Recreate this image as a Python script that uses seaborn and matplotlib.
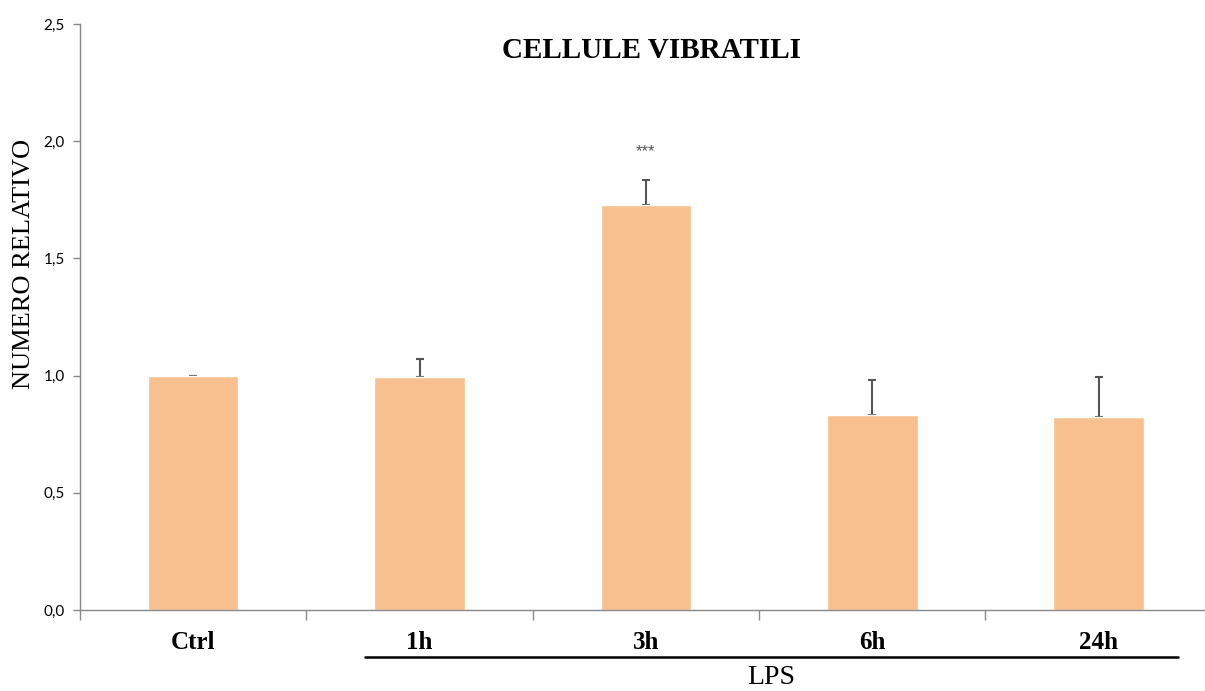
import matplotlib
matplotlib.use("Agg")
import matplotlib.pyplot as plt
import seaborn as sns
import pandas as pd
import numpy as np
from matplotlib.ticker import FuncFormatter

categories = ["Ctrl", "1h", "3h", "6h", "24h"]
values = [1.0, 0.995, 1.728, 0.832, 0.823]
errors = [0.0, 0.075, 0.107, 0.149, 0.171]
signif = ["", "", "***", "", ""]
title = "CELLULE VIBRATILI"
ylabel = "NUMERO RELATIVO"
group_label = "LPS"
yticks = [0.0, 0.5, 1.0, 1.5, 2.0, 2.5]

sns.set_theme(style="white")
plt.rcParams["font.family"] = ["Liberation Serif", "DejaVu Serif"]
plt.rcParams["text.color"] = "black"

df = pd.DataFrame({"cat": categories, "val": values})

fig = plt.figure(figsize=(12.05, 6.91), dpi=100)
ax = fig.add_axes([80/1205, (691-610)/691, (1205-80)/1205, (610-24)/691])

bar_color = "#F8C08E"
sns.barplot(data=df, x="cat", y="val", color=bar_color, saturation=1,
            width=0.4, ax=ax, errorbar=None, zorder=2)

xpos = np.arange(len(categories))
ax.errorbar(xpos, values, yerr=[np.zeros(len(errors)), errors], fmt="none",
            ecolor="#555555", elinewidth=1.5, capsize=3, capthick=1.5, zorder=1)

for i, s in enumerate(signif):
    if s:
        ax.text(xpos[i], 1.955, s, ha="center", va="center", fontsize=12,
                color="#555555", family=["Liberation Sans", "DejaVu Sans"])

ax.set_yticks(yticks)
ax.yaxis.set_major_formatter(FuncFormatter(lambda v, p: f"{v:.1f}".replace(".", ",")))
ax.tick_params(axis="y", direction="out", length=5, width=1, color="#888888",
               labelsize=11, labelcolor="black", pad=6, left=True)
for lab in ax.get_yticklabels():
    lab.set_family(["Lato", "DejaVu Sans"])

# category boundary ticks, labels centered
bounds = np.arange(-0.5, len(categories), 1.0)
ax.set_xticks(bounds)
ax.set_xticklabels([""] * len(bounds))
ax.set_xticks(xpos, minor=True)
ax.set_xticklabels(categories, minor=True, fontsize=18, fontweight="bold", color="black")
ax.tick_params(axis="x", which="major", direction="out", length=7, width=1,
               color="#888888", bottom=True)
ax.tick_params(axis="x", which="minor", length=0, pad=15)
ax.set_xlabel("")
ax.set_ylabel("")
ax.set_ylim(0, 2.5)
ax.set_xlim(-0.5, 4.47)

for sp in ["top", "right"]:
    ax.spines[sp].set_visible(False)
for sp in ["left", "bottom"]:
    ax.spines[sp].set_color("#888888")
    ax.spines[sp].set_linewidth(1)

fig.text(652/1205, 1 - 50/691, title, ha="center", va="center",
         fontsize=21, fontweight="bold", color="black")
fig.text(24/1205, 1 - 264/691, ylabel, ha="center", va="center",
         rotation=90, fontsize=19, color="black")

# LPS grouping line
fig.add_artist(plt.Line2D([365/1205, 1178/1205], [1 - 657/691, 1 - 657/691],
                          color="black", linewidth=1.8))
fig.text(771/1205, 1 - 677/691, group_label, ha="center", va="center",
         fontsize=20, color="black")

fig.savefig("out.png", dpi=100)
